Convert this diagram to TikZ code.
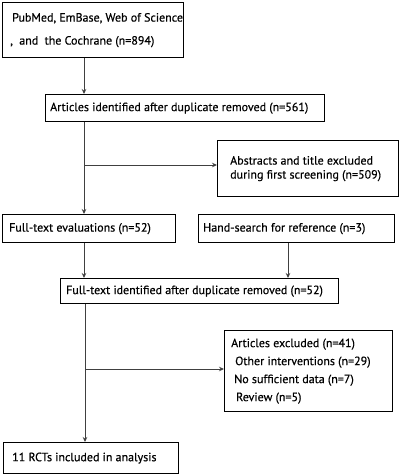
\documentclass[tikz,border=0pt]{standalone}
\usepackage{fontspec}
\setmainfont{PT Sans}[FakeBold=0.5]
\usetikzlibrary{arrows.meta,calc}
\begin{document}
\begin{tikzpicture}[x=1pt,y=-1pt,
  box/.style={draw=black,line width=1.3pt,anchor=north west,inner sep=0pt},
  txt/.style={anchor=west,inner sep=0pt,align=left,font=\fontsize{12}{#1}\selectfont},
  txt/.default=14,
  arr/.style={draw=black!75,line width=1pt,-{Stealth[length=5pt,width=4.5pt]}}]
\useasboundingbox (0,0) rectangle (400,474);
\node[box,minimum width=181,minimum height=55] (b1) at (2,2) {};
\node[txt=23] (t1) at ($(b1.west)+(8,0)$)
  {\hspace{2pt}PubMed, EmBase, Web of Science\\, \ and \ the Cochrane (n=894)};
\node[box,minimum width=279,minimum height=27] (b2) at (45,94) {};
\node[txt] (t2) at ($(b2.west)+(5,0)$)
  {Articles identified after duplicate removed (n=561)};
\node[box,minimum width=181,minimum height=56] (b3) at (217,140) {};
\node[txt=14] (t3) at ($(b3.west)+(13,0)$)
  {Abstracts and title excluded\\during first screening (n=509)};
\node[box,minimum width=173,minimum height=28] (b4) at (2,214) {};
\node[txt] (t4) at ($(b4.west)+(7,0)$)
  {Full-text evaluations (n=52)};
\node[box,minimum width=196,minimum height=28] (b5) at (198,214) {};
\node[txt] (t5) at ($(b5.west)+(5,0)$)
  {Hand-search for reference (n=3)};
\node[box,minimum width=278,minimum height=25] (b6) at (60,278) {};
\node[txt] (t6) at ($(b6.west)+(6,0)$)
  {Full-text identified after duplicate removed (n=52)};
\node[box,minimum width=168,minimum height=81] (b7) at (224,330) {};
\node[txt=18] (t7) at ($(b7.west)+(7,0)$)
  {Articles excluded (n=41)\\\hspace{4pt}Other interventions (n=29)\\\hspace{3pt}No sufficient data (n=7)\\\hspace{5pt}Review (n=5)};
\node[box,minimum width=175,minimum height=31] (b8) at (3,442) {};
\node[txt] (t8) at ($(b8.west)+(9,0)$)
  {11 RCTs included in analysis};
% connectors
\coordinate (c1) at (84,165);
\coordinate (c2) at (85,369);
\coordinate (c3) at (288,0);
\draw[arr] (b1.south -| c1) -- (b2.north -| c1);
\draw[arr] (b2.south -| c1) -- (b4.north -| c1);
\draw[arr] (c1) -- (c1 -| b3.west);
\draw[arr] (b4.south -| c1) -- (b6.north -| c1);
\draw[arr] (b5.south -| c3) -- (b6.north -| c3);
\draw[arr] (b6.south -| c2) -- (b8.north -| c2);
\draw[arr] (c2) -- (c2 -| b7.west);
\end{tikzpicture}
\end{document}
